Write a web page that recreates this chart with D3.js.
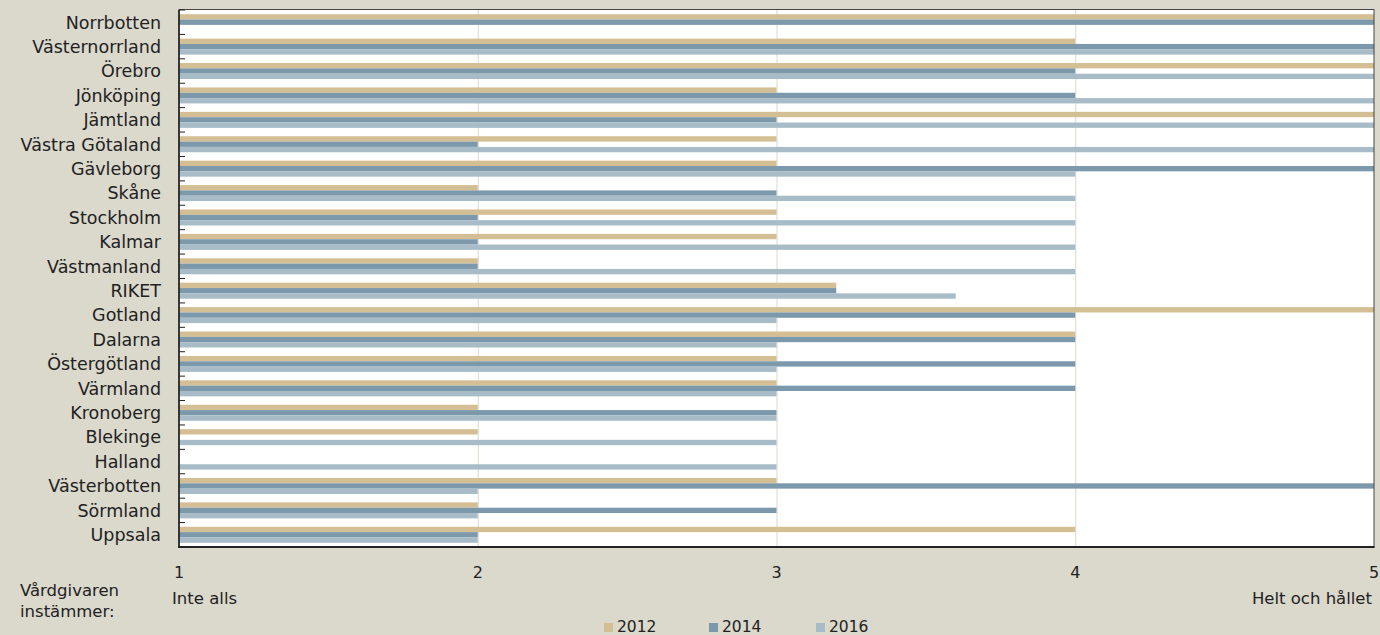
<!DOCTYPE html>
<html><head><meta charset="utf-8">
<script src="https://cdn.jsdelivr.net/npm/d3@7"></script>
<style>
html,body{margin:0;padding:0;background:#dbd8cc;}
svg{display:block;}
text{font-family:"DejaVu Sans",sans-serif;fill:#222;}
</style></head><body>
<svg id="c" width="1380" height="635"></svg>
<script>
const categories = ["Norrbotten","Västernorrland","Örebro","Jönköping","Jämtland","Västra Götaland","Gävleborg","Skåne","Stockholm","Kalmar","Västmanland","RIKET","Gotland","Dalarna","Östergötland","Värmland","Kronoberg","Blekinge","Halland","Västerbotten","Sörmland","Uppsala"];
const years = ["2012","2014","2016"];
const v2012 = [5,4,5,3,5,3,3,2,3,3,2,3.2,5,4,3,3,2,2,null,3,2,4];
const v2014 = [5,5,4,4,3,2,5,3,2,2,2,3.2,4,4,4,4,3,null,null,5,3,2];
const v2016 = [null,5,5,5,5,5,4,4,4,4,4,3.6,3,3,3,3,3,3,3,2,2,2];
const xTicks = [1,2,3,4,5];
const colors = ["#d4bf94","#7c99ab","#a8bcc7"];

const svg = d3.select("#c");
const x = d3.scaleLinear().domain([1,5]).range([179,1374]);
const y = d3.scaleBand().domain(categories).range([10,547]).padding(0);
const groupH = 16;
const ys = d3.scaleBand().domain(years).range([0,groupH]);
const off = (y.bandwidth()-groupH)/2;

// plot background
svg.append("rect").attr("x",x(1)).attr("y",10).attr("width",x(5)-x(1)).attr("height",537).attr("fill","#fff");

// gridlines
svg.append("g").selectAll("line").data(xTicks.filter(d=>d>1&&d<5)).join("line")
  .attr("x1",d=>x(d)+0.5).attr("x2",d=>x(d)+0.5).attr("y1",10).attr("y2",547)
  .attr("stroke","#dbd8cc").attr("stroke-width",1);

// bars
const series = [v2012,v2014,v2016];
series.forEach((vals,si)=>{
  svg.append("g").selectAll("rect")
    .data(categories.map((c,i)=>({c,v:vals[i]})).filter(d=>d.v!=null))
    .join("rect")
    .attr("x",x(1))
    .attr("y",d=>y(d.c)+off+ys(years[si]))
    .attr("width",d=>x(d.v)-x(1))
    .attr("height",ys.bandwidth())
    .attr("fill",colors[si]);
});

// border
svg.append("rect").attr("x",x(1)).attr("y",9.5).attr("width",x(5)-x(1)).attr("height",537.5)
  .attr("fill","none").attr("stroke","#444").attr("stroke-width",1);
svg.append("line").attr("x1",x(1)).attr("x2",x(1)).attr("y1",10).attr("y2",548)
  .attr("stroke","#222").attr("stroke-width",1.6);
svg.append("line").attr("x1",x(1)-1).attr("x2",x(5)+0.5).attr("y1",547).attr("y2",547)
  .attr("stroke","#222").attr("stroke-width",2);

// category boundary ticks (inside)
const bounds = categories.map(c=>y(c)).concat([y.range()[1]]);
svg.append("g").selectAll("line").data(bounds).join("line")
  .attr("x1",x(1)).attr("x2",x(1)+6).attr("y1",d=>d).attr("y2",d=>d)
  .attr("stroke","#222").attr("stroke-width",1);

// category labels
svg.append("g").selectAll("text").data(categories).join("text")
  .attr("x",161).attr("y",d=>y(d)+y.bandwidth()/2).attr("dy","0.36em")
  .attr("text-anchor","end").attr("font-size","17.5px").text(d=>d);

// x tick labels
svg.append("g").selectAll("text").data(xTicks).join("text")
  .attr("x",d=>x(d)).attr("y",578).attr("text-anchor","middle")
  .attr("font-size","16px").text(d=>d);

svg.append("text").attr("x",172).attr("y",604).attr("font-size","16.5px").text("Inte alls");
svg.append("text").attr("x",1372).attr("y",604).attr("text-anchor","end").attr("font-size","16.5px").text("Helt och hållet");
svg.append("text").attr("x",20).attr("y",596).attr("font-size","16.5px").text("Vårdgivaren");
svg.append("text").attr("x",20).attr("y",617).attr("font-size","16.5px").text("instämmer:");

// legend
const legX = [604,709,816];
const lg = svg.append("g").selectAll("g").data(years).join("g")
  .attr("transform",(d,i)=>`translate(${legX[i]},623)`);
lg.append("rect").attr("width",9).attr("height",9).attr("fill",(d,i)=>colors[i]);
lg.append("text").attr("x",13).attr("y",9).attr("font-size","15.5px").text(d=>d);
</script>
</body></html>
